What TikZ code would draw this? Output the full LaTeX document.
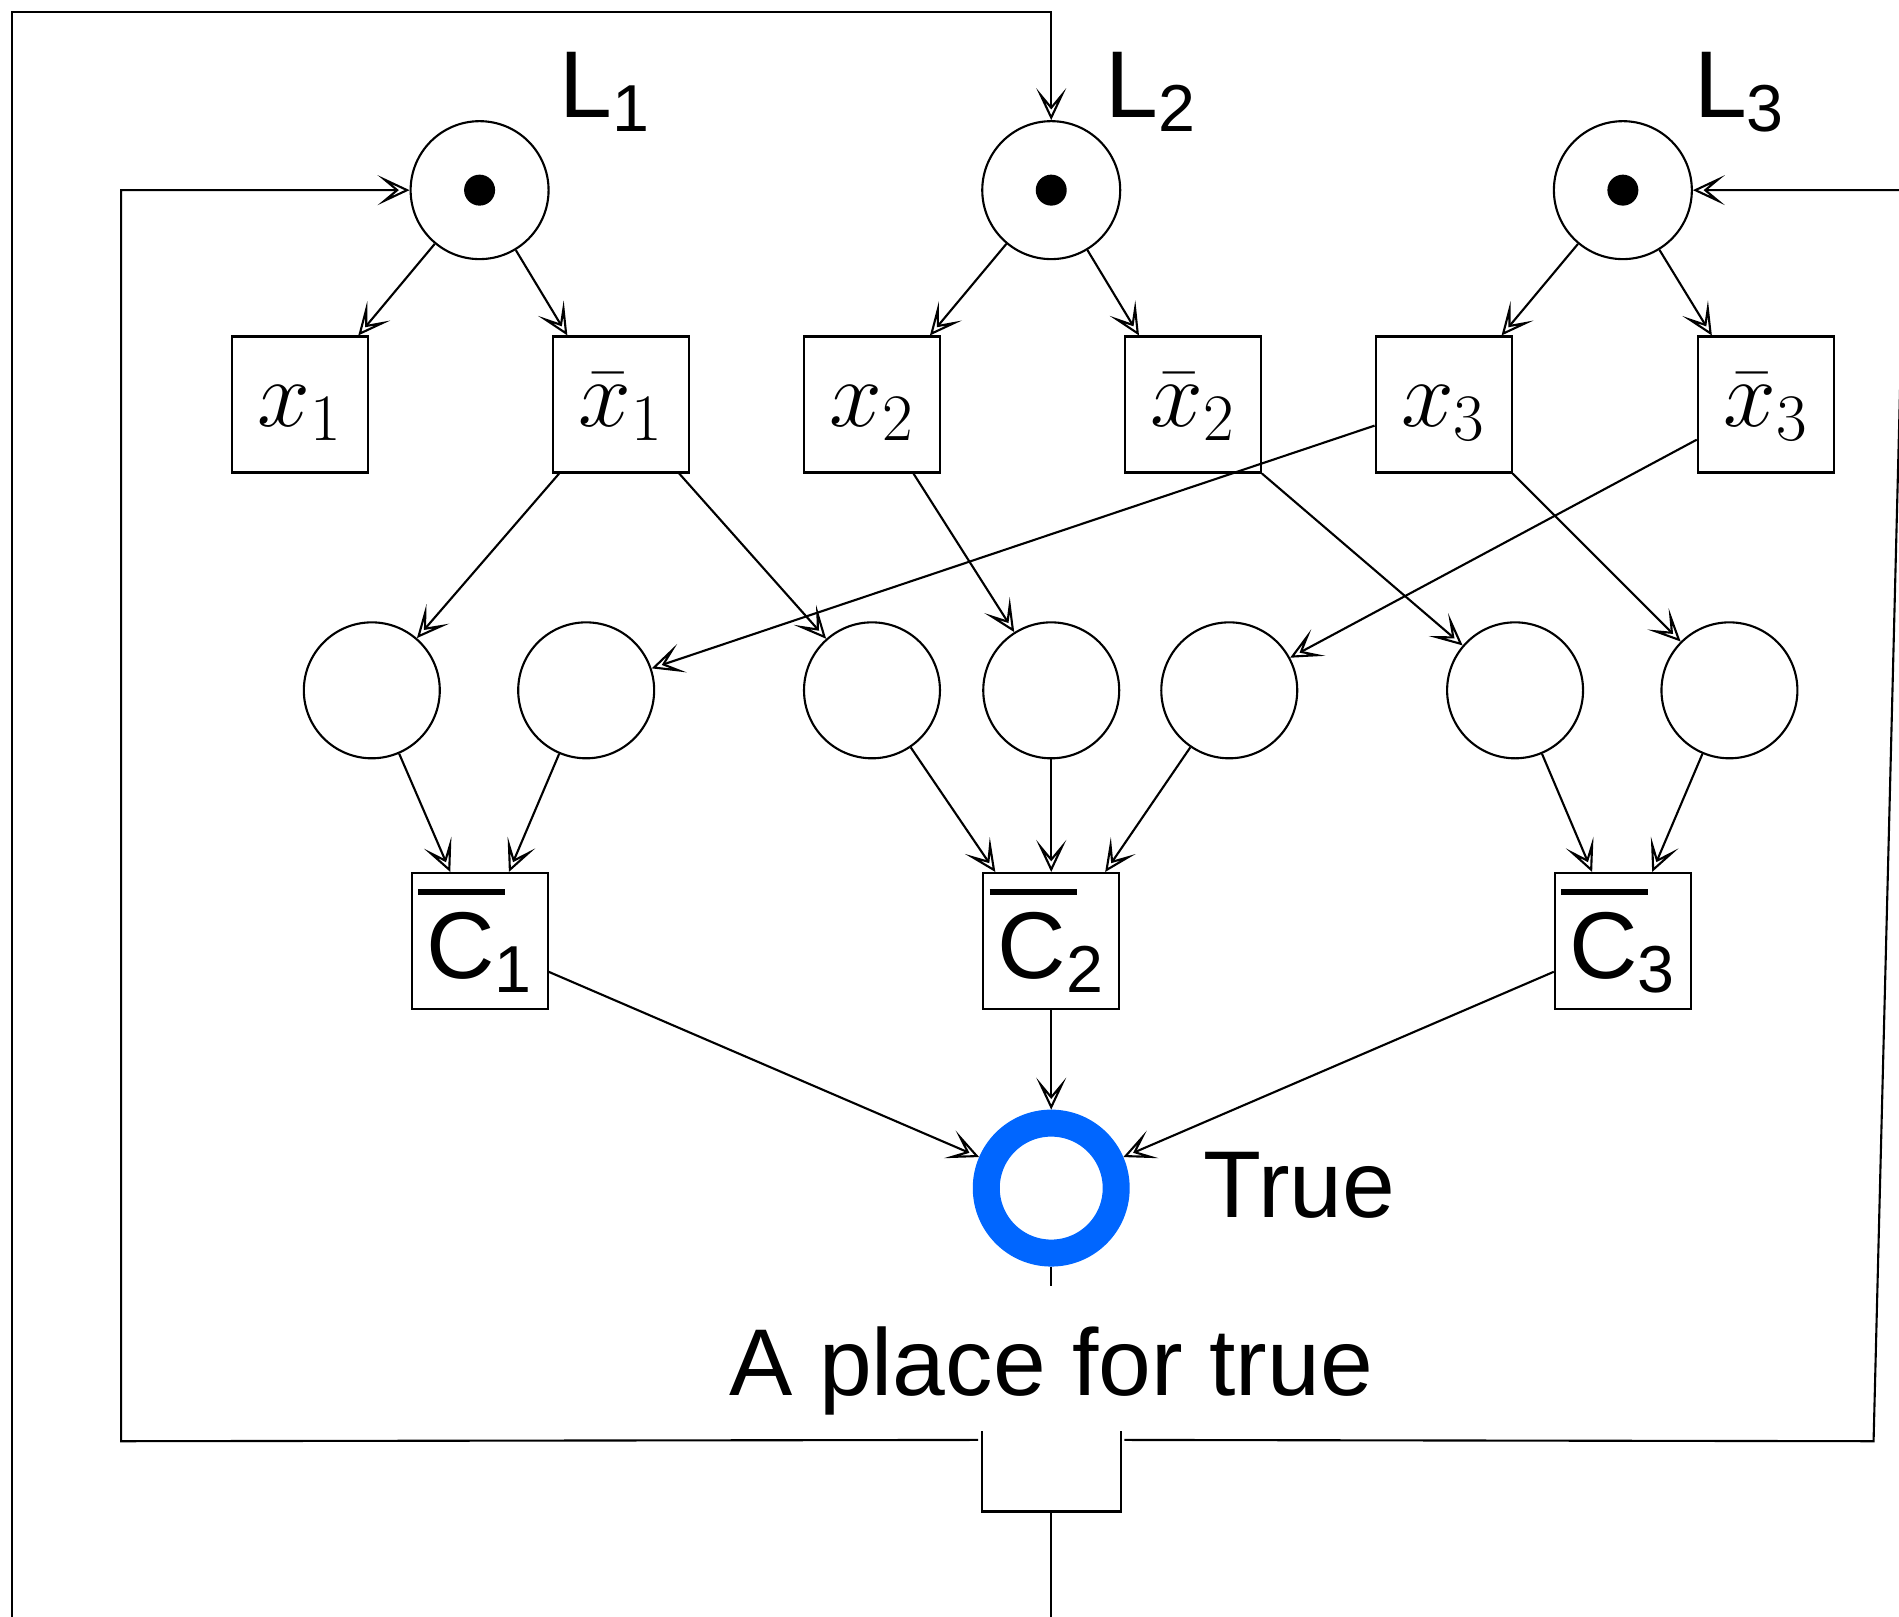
\RequirePackage{fix-cm}
\documentclass[tikz,border=0pt]{standalone}
\usepackage[no-math]{fontspec}
\setmainfont{Liberation Sans}
\usepackage{amsmath}
\usepackage{tikz}
\usetikzlibrary{positioning,arrows.meta,calc}

\definecolor{trueblue}{RGB}{0,102,255}
% negated clause label
\newcommand{\clabel}[1]{\rlap{\hspace{-0.08cm}\raisebox{0.83cm}{\rule{0.87cm}{0.06cm}}}C\textsubscript{#1}}

\begin{document}
\begin{tikzpicture}[
    x=0.01211cm, y=-0.01211cm,
    font=\fontsize{27}{32}\selectfont,
    line width=0.6pt,
    place/.style={draw, circle, minimum size=1.38cm, inner sep=0pt},
    small/.style={draw, circle, minimum size=1.36cm, inner sep=0pt},
    marked/.style={place, path picture={\fill (path picture bounding box.center) circle (0.155cm);}},
    trans/.style={draw, minimum width=1.36cm, minimum height=1.36cm, inner sep=0pt},
    lit/.style={trans, text height=0.6cm, text depth=0.16cm},
    lbl/.style={inner sep=0pt, anchor=base west},
    arc/.style={-{Stealth[open, length=3.2mm, width=3mm, inset=1.8mm]}},
  ]
  \useasboundingbox (0,0) rectangle (1568,1335);
  \clip (0,0) rectangle (1568,1335);

  % literal places
  \node[marked] (l1) at (396,157) {};
  \node[marked] (l2) at (868,157) {};
  \node[marked] (l3) at (1340,157) {};
  \node[lbl] (l1lab) at (461,97) {L\textsubscript{1}};
  \node[lbl] (l2lab) at (912,97) {L\textsubscript{2}};
  \node[lbl] (l3lab) at (1398,97) {L\textsubscript{3}};

  % literal transitions
  \node[lit] (x1) at (248,334) {$x_1$};
  \node[lit] (nx1) at (513,334) {$\bar x_1$};
  \node[lit] (x2) at (720,334) {$x_2$};
  \node[lit] (nx2) at (985,334) {$\bar x_2$};
  \node[lit] (x3) at (1192,334) {$x_3$};
  \node[lit] (nx3) at (1458,334) {$\bar x_3$};

  % literal occurrences
  \node[small] (p1) at (307,570) {};
  \node[small] (p2) at (484,570) {};
  \node[small] (p3) at (720,570) {};
  \node[small] (p4) at (868,570) {};
  \node[small] (p5) at (1015,570) {};
  \node[small] (p6) at (1251,570) {};
  \node[small] (p7) at (1428,570) {};

  % clause transitions
  \node[trans] (c1) at (396,777) {\clabel{1}};
  \node[trans] (c2) at (868,777) {\clabel{2}};
  \node[trans] (c3) at (1340,777) {\clabel{3}};

  % place for true
  \node[draw=trueblue, line width=0.27cm, circle, minimum size=1.30cm, inner sep=0pt] (tr) at (868,981) {};
  \node[lbl] (trlab) at (993,1005) {True};
  \node[inner sep=0pt, anchor=base] (trtxt) at (868,1152) {A place for true};
  \coordinate (stub) at (868,1062);

  % reset transition, open on top
  \node[minimum width=1.37cm, minimum height=0.78cm, inner sep=0pt] (rst) at (868,1215) {};
  \draw (rst.north west) -- (rst.south west) -- (rst.south east) -- (rst.north east);

  \coordinate (ibl) at (100,1190);
  \coordinate (ibr) at (1547,1190);
  \coordinate (itr) at (1573,157);
  \coordinate (obr) at (868,1345);
  \coordinate (obl) at (10,1345);
  \coordinate (otl) at (10,10);

  \draw[arc] (l1) -- (x1.50);
  \draw[arc] (l1) -- (nx1.128);
  \draw[arc] (l2) -- (x2.50);
  \draw[arc] (l2) -- (nx2.128);
  \draw[arc] (l3) -- (x3.50);
  \draw[arc] (l3) -- (nx3.128);

  \draw[arc] (nx1.228) -- (p1);
  \draw[arc] (nx1.310) -- (p3);
  \draw[arc] (x2.301) -- (p4);
  \draw[arc] (nx2.315) -- (p6);
  \draw[arc] (x3.197) -- (p2);
  \draw[arc] (nx3.207) -- (p5);
  \draw[arc] (x3.315) -- (p7);

  \draw[arc] (p1) -- (c1.113);
  \draw[arc] (p2) -- (c1.67);
  \draw[arc] (p3) -- (c2.129);
  \draw[arc] (p4) -- (c2);
  \draw[arc] (p5) -- (c2.52);
  \draw[arc] (p6) -- (c3.114);
  \draw[arc] (p7) -- (c3.67);

  \draw[arc] (c1.336) -- (tr);
  \draw[arc] (c2) -- (tr);
  \draw[arc] (c3.204) -- (tr);
  \draw (tr) -- (stub);

  % loops back to the literal places
  \draw[arc] ($(rst.north west)+(-3,7)$) -- (ibl) |- (l1);
  \draw[arc] ($(rst.north east)+(3,7)$) -- (ibr) -- (itr) -- (l3);
  \draw[arc] (rst.south) -- (obr) -- (obl) -- (otl) -| (l2);
\end{tikzpicture}
\end{document}
